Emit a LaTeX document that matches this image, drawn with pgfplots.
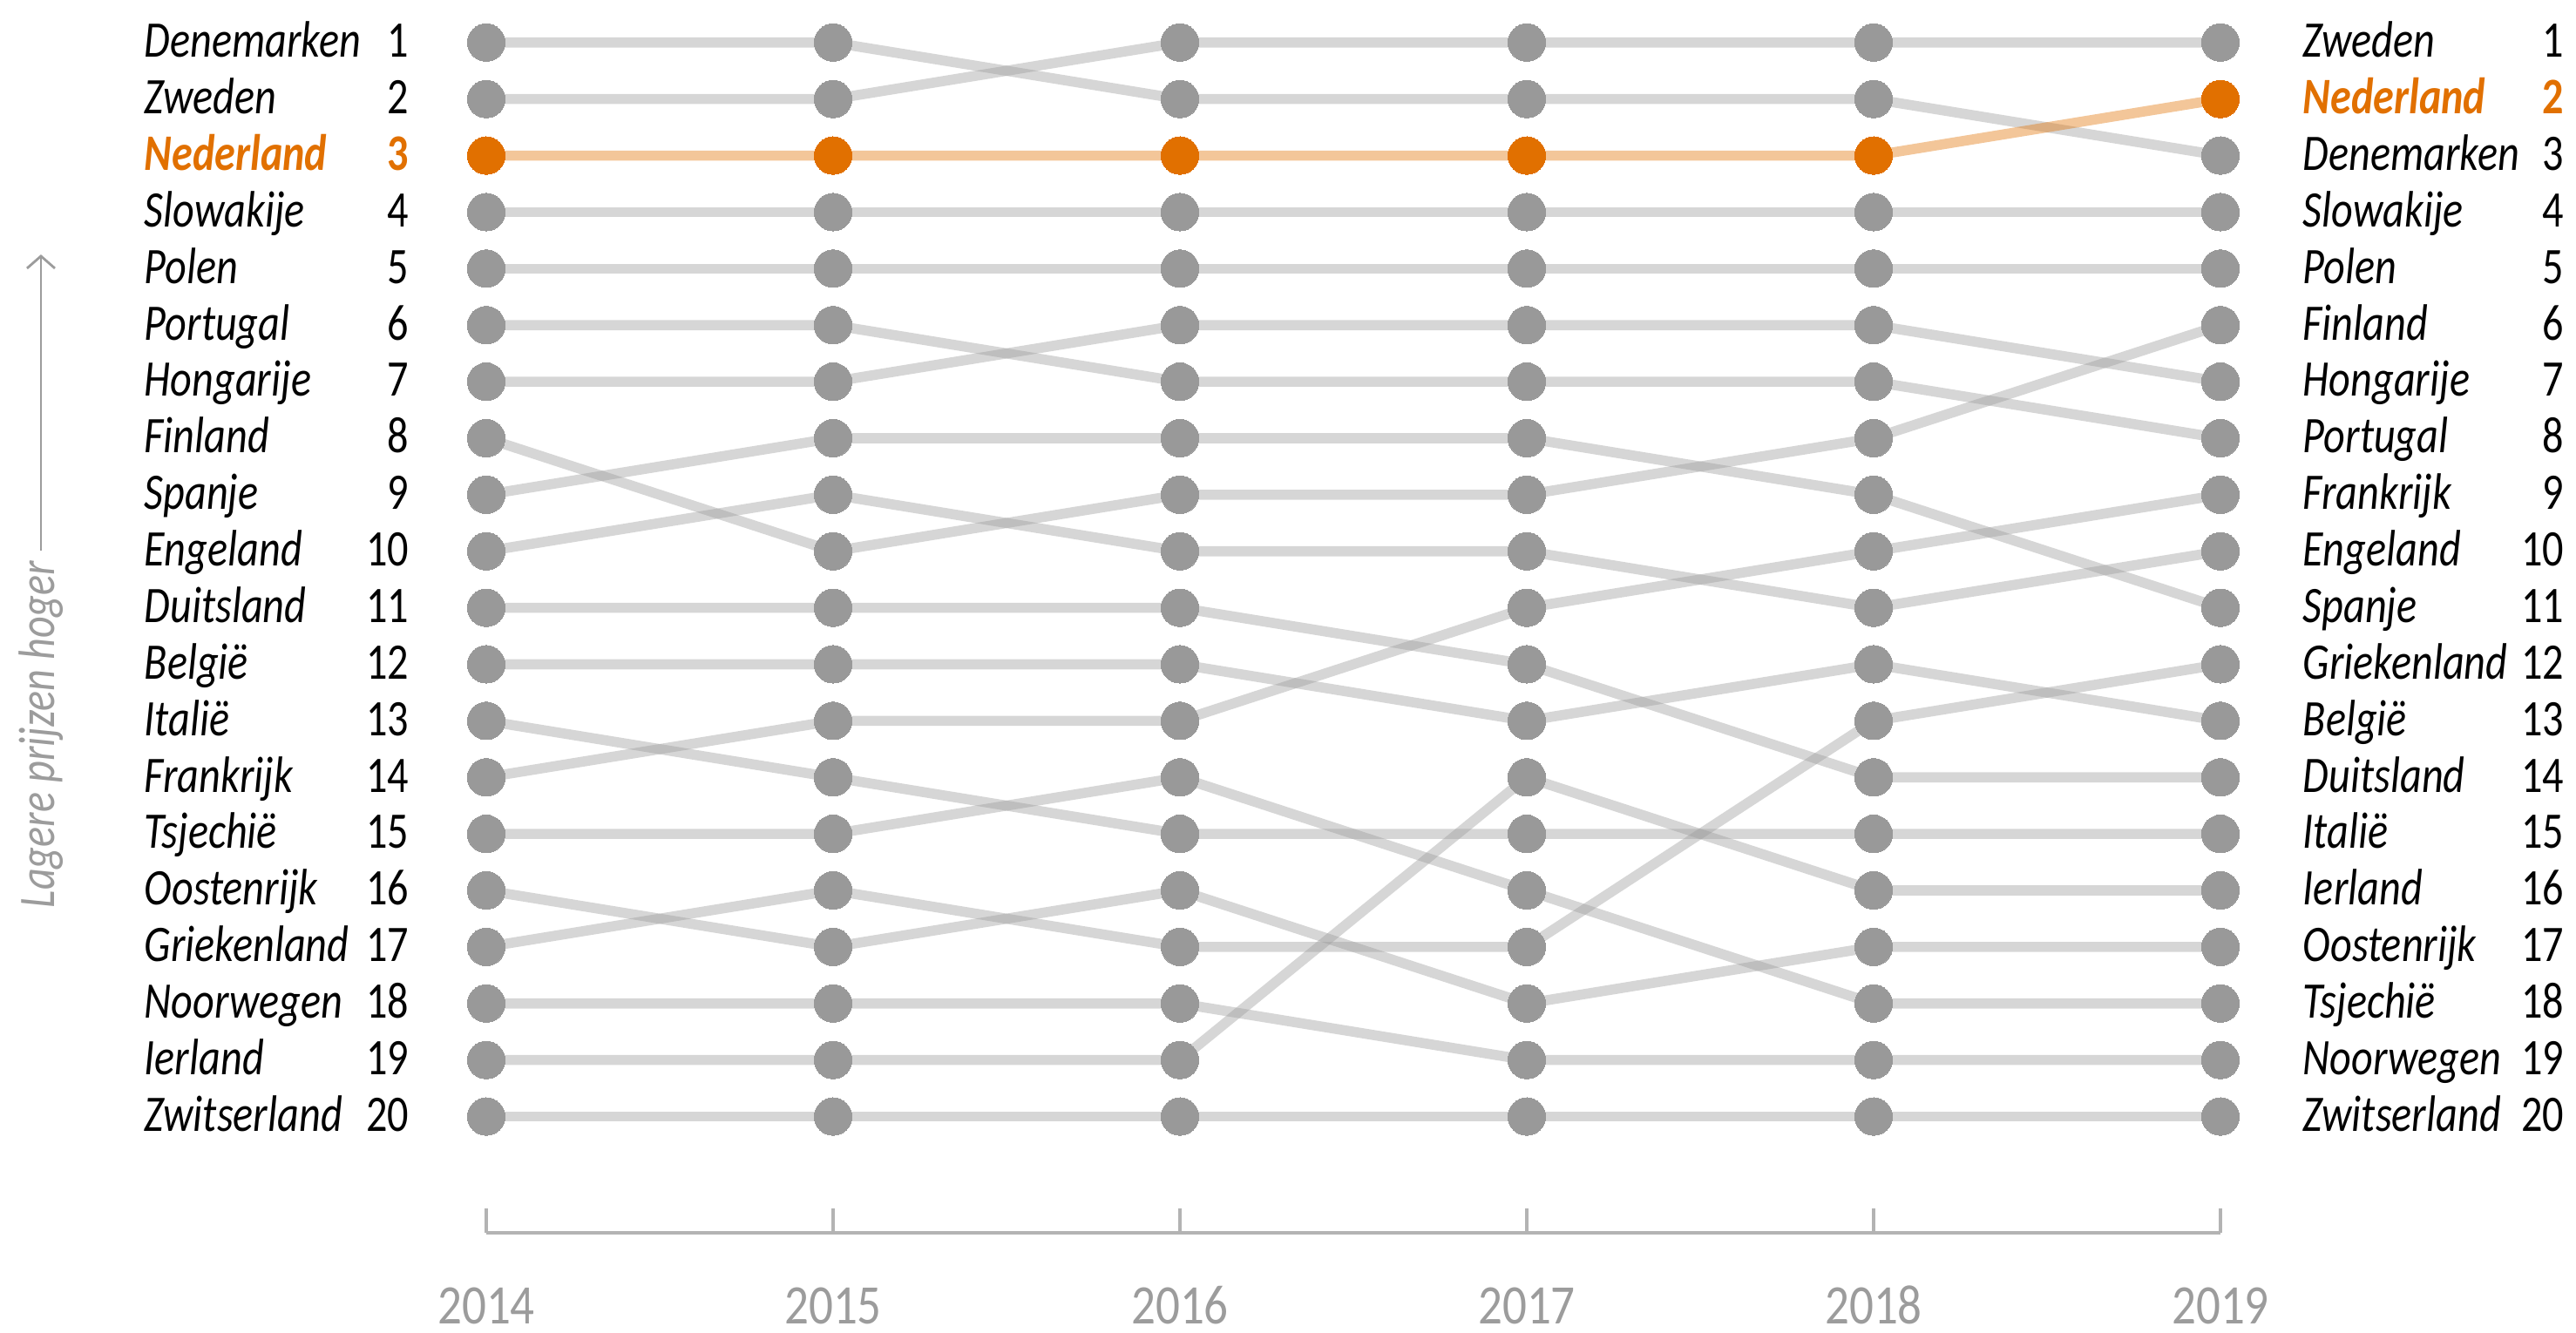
\documentclass[border=0pt]{standalone}
\usepackage{pgfplots}
\pgfplotsset{compat=1.18}
\usepackage{pgfplotstable}
\usetikzlibrary{arrows.meta}
\usepackage{fontspec}
\setmainfont{Carlito}[FakeStretch=0.82]
\newfontfamily\yearfont{Carlito}[FakeStretch=0.86]

\definecolor{dotgray}{HTML}{999999}
\definecolor{nlorange}{HTML}{E17000}
\definecolor{axisgray}{HTML}{B3B3B3}
\definecolor{labelgray}{HTML}{9C9C9C}

\pgfplotstableread{
year DK SE NL SK PL PT HU FI ES EN DE BE IT FR CZ AT GR NO IE CH
2014 1 2 3 4 5 6 7 8 9 10 11 12 13 14 15 16 17 18 19 20
2015 1 2 3 4 5 6 7 10 8 9 11 12 14 13 15 17 16 18 19 20
2016 2 1 3 4 5 7 6 9 8 10 11 12 15 13 14 16 17 18 19 20
2017 2 1 3 4 5 7 6 9 8 10 12 13 15 11 16 18 17 19 14 20
2018 2 1 3 4 5 7 6 8 9 11 14 12 15 10 18 17 13 19 16 20
2019 3 1 2 4 5 8 7 6 11 10 14 13 15 9 18 17 12 19 16 20
}\ranks

\newcommand\lblfont{\fontsize{14.7}{17}\selectfont}
\newcommand\Lrow[2]{%
  \node[anchor=base west, inner sep=0pt, font=\lblfont\itshape] at ([xshift=-98.25pt,yshift=-4.2pt]axis cs:2014,#1) {#2};
  \node[anchor=base east, inner sep=0pt, font=\lblfont] at ([xshift=-22pt,yshift=-4.2pt]axis cs:2014,#1) {#1};}
\newcommand\Rrow[2]{%
  \node[anchor=base west, inner sep=0pt, font=\lblfont\itshape] at ([xshift=23.5pt,yshift=-4.2pt]axis cs:2019,#1) {#2};
  \node[anchor=base east, inner sep=0pt, font=\lblfont] at ([xshift=98.75pt,yshift=-4.2pt]axis cs:2019,#1) {#1};}

\begin{document}
\begin{tikzpicture}
\begin{axis}[
  scale only axis, width=497.5pt, height=341.6pt,
  xmin=2014, xmax=2019, ymin=1, ymax=22.06, y dir=reverse,
  axis x line*=bottom, axis y line=none,
  xtick={2014,2015,2016,2017,2018,2019},
  xticklabels={2014,2015,2016,2017,2018,2019},
  ytick=\empty,
  tick align=inside, major tick length=7pt,
  x axis line style={axisgray, line width=1pt},
  xtick style={axisgray, line width=0.8pt},
  xticklabel style={anchor=base, inner sep=0pt, yshift=-26pt, font=\yearfont\fontsize{16}{18}\selectfont, text=labelgray},
  clip=false,
]
\pgfplotsinvokeforeach{DK,SE,SK,PL,PT,HU,FI,ES,EN,DE,BE,IT,FR,CZ,AT,GR,NO,IE,CH}{
  \addplot[dotgray, draw opacity=0.4, line width=2.9pt, no markers] table[x=year,y=#1]{\ranks};
}
\addplot[nlorange, draw opacity=0.4, line width=2.9pt, no markers] table[x=year,y=NL]{\ranks};
\pgfplotsinvokeforeach{DK,SE,SK,PL,PT,HU,FI,ES,EN,DE,BE,IT,FR,CZ,AT,GR,NO,IE,CH}{
  \addplot[dotgray, only marks, mark=*, mark size=5.4pt, mark options={fill=dotgray, draw=dotgray, line width=0pt}] table[x=year,y=#1]{\ranks};
}
\addplot[nlorange, only marks, mark=*, mark size=5.4pt, mark options={fill=nlorange, draw=nlorange, line width=0pt}] table[x=year,y=NL]{\ranks};

\Lrow{1}{Denemarken}
\Lrow{2}{Zweden}
\node[anchor=base west, inner sep=0pt, font=\lblfont\bfseries\itshape, text=nlorange] at ([xshift=-98.25pt,yshift=-4.2pt]axis cs:2014,3) {Nederland};
\node[anchor=base east, inner sep=0pt, font=\lblfont\bfseries, text=nlorange] at ([xshift=-22pt,yshift=-4.2pt]axis cs:2014,3) {3};
\Lrow{4}{Slowakije}
\Lrow{5}{Polen}
\Lrow{6}{Portugal}
\Lrow{7}{Hongarije}
\Lrow{8}{Finland}
\Lrow{9}{Spanje}
\Lrow{10}{Engeland}
\Lrow{11}{Duitsland}
\Lrow{12}{België}
\Lrow{13}{Italië}
\Lrow{14}{Frankrijk}
\Lrow{15}{Tsjechië}
\Lrow{16}{Oostenrijk}
\Lrow{17}{Griekenland}
\Lrow{18}{Noorwegen}
\Lrow{19}{Ierland}
\Lrow{20}{Zwitserland}

\Rrow{1}{Zweden}
\node[anchor=base west, inner sep=0pt, font=\lblfont\bfseries\itshape, text=nlorange] at ([xshift=23.5pt,yshift=-4.2pt]axis cs:2019,2) {Nederland};
\node[anchor=base east, inner sep=0pt, font=\lblfont\bfseries, text=nlorange] at ([xshift=98.75pt,yshift=-4.2pt]axis cs:2019,2) {2};
\Rrow{3}{Denemarken}
\Rrow{4}{Slowakije}
\Rrow{5}{Polen}
\Rrow{6}{Finland}
\Rrow{7}{Hongarije}
\Rrow{8}{Portugal}
\Rrow{9}{Frankrijk}
\Rrow{10}{Engeland}
\Rrow{11}{Spanje}
\Rrow{12}{Griekenland}
\Rrow{13}{België}
\Rrow{14}{Duitsland}
\Rrow{15}{Italië}
\Rrow{16}{Ierland}
\Rrow{17}{Oostenrijk}
\Rrow{18}{Tsjechië}
\Rrow{19}{Noorwegen}
\Rrow{20}{Zwitserland}

\node[rotate=90, inner sep=0pt, font=\lblfont\itshape, text=labelgray] at ([xshift=-127.75pt]axis cs:2014,13.24) {Lagere prijzen hoger};
\draw[labelgray, line width=0.7pt, -{Straight Barb[length=3.5pt,width=8pt]}] ([xshift=-127.75pt]axis cs:2014,9.99) -- ([xshift=-127.75pt]axis cs:2014,4.75);
\coordinate (R1) at (axis cs:2014,1);
\end{axis}
\pgfresetboundingbox
\path ([shift={(-139.5pt,12.2pt)}]R1) rectangle ([shift={(599.5pt,-370.3pt)}]R1);
\end{tikzpicture}
\end{document}
